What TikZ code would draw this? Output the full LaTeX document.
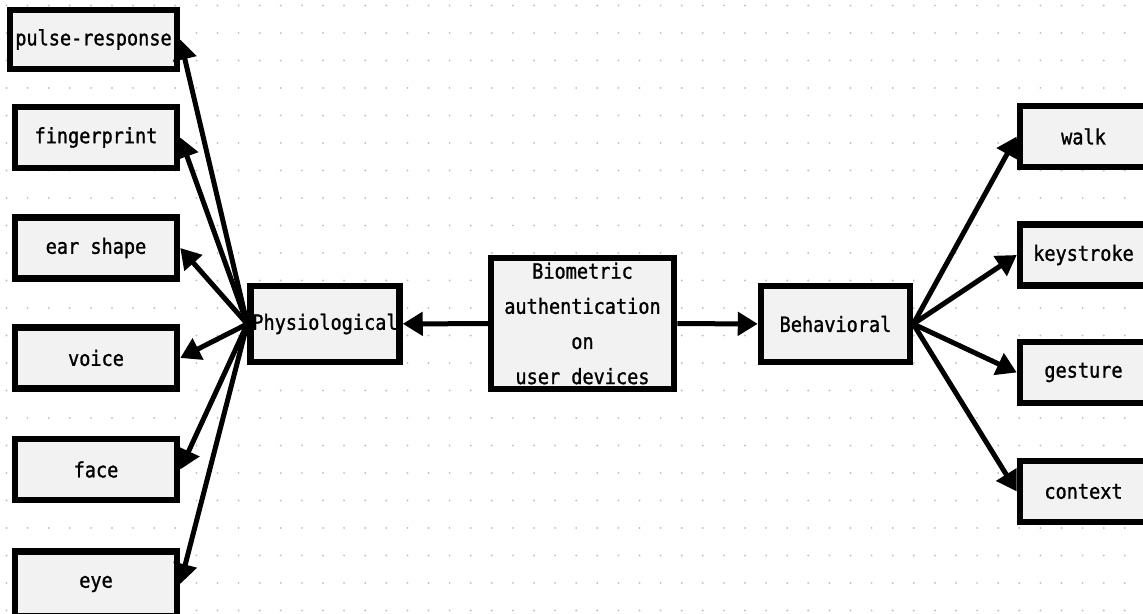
\documentclass[tikz,border=0pt]{standalone}
\usepackage{fontspec}
\setmonofont[FakeStretch=0.88,FakeBold=1.2]{DejaVu Sans Mono}
\usepackage{tikz}
\usetikzlibrary{arrows.meta,positioning}
\definecolor{boxfill}{HTML}{F2F2F2}
\definecolor{griddot}{HTML}{C4C4C4}

\begin{document}
\begin{tikzpicture}[
    box/.style={rectangle, draw, line width=0.13cm, fill=boxfill, minimum width=3.24cm, minimum height=1.22cm, inner sep=1pt, align=center, font=\ttfamily\fontsize{12}{20}\selectfont},
    mid/.style={box, minimum width=2.98cm, minimum height=1.52cm},
    arrow/.style={-{Triangle[length=0.4cm,width=0.46cm]}, line width=0.1cm}
]
    \useasboundingbox (0,0) rectangle (22.86,12.28);

    % Dotted grid
    \foreach \i in {0,...,54}
        \foreach \j in {0,...,22}
            \fill[griddot] (0.13+0.422*\i, 12.17-0.55*\j) circle (0.022);

    % Centre box
    \node[box, minimum width=3.66cm, minimum height=2.62cm] (bio) at (11.65,5.81) {Biometric\\authentication\\on\\user devices};

    % Main groups
    \node[mid] (phys) at (6.50,5.80) {Physiological};
    \node[mid] (behav) at (16.71,5.80) {Behavioral};

    % Physiological traits
    \node[box, minimum width=3.34cm, minimum height=1.18cm] (pulse) at (1.87,11.49) {pulse-response};
    \node[box] (finger) at (1.92,9.53) {fingerprint};
    \node[box] (ear) at (1.92,7.32) {ear shape};
    \node[box] (voice) at (1.92,5.12) {voice};
    \node[box] (face) at (1.92,2.89) {face};
    \node[box, minimum height=1.30cm] (eye) at (1.92,0.60) {eye};

    % Behavioral traits
    \node[box, minimum width=2.54cm] (walk) at (21.67,9.55) {walk};
    \node[box, minimum width=2.54cm] (keys) at (21.67,7.18) {keystroke};
    \node[box, minimum width=2.54cm] (gest) at (21.67,4.83) {gesture};
    \node[box, minimum width=2.54cm] (ctx) at (21.67,2.45) {context};

    % Arrows
    \draw[arrow] (bio) -- (phys);
    \draw[arrow] (bio) -- (behav);
    \draw[arrow] (phys.west) -- (pulse.east);
    \draw[arrow] (phys.west) -- (finger.east);
    \draw[arrow] (phys.west) -- (ear.east);
    \draw[arrow] (phys.west) -- (voice.east);
    \draw[arrow] (phys.west) -- (face.east);
    \draw[arrow] (phys.west) -- (eye.east);
    \draw[arrow] (behav.east) -- (walk.west);
    \draw[arrow] (behav.east) -- (keys.west);
    \draw[arrow] (behav.east) -- (gest.west);
    \draw[arrow] (behav.east) -- (ctx.west);
\end{tikzpicture}
\end{document}
